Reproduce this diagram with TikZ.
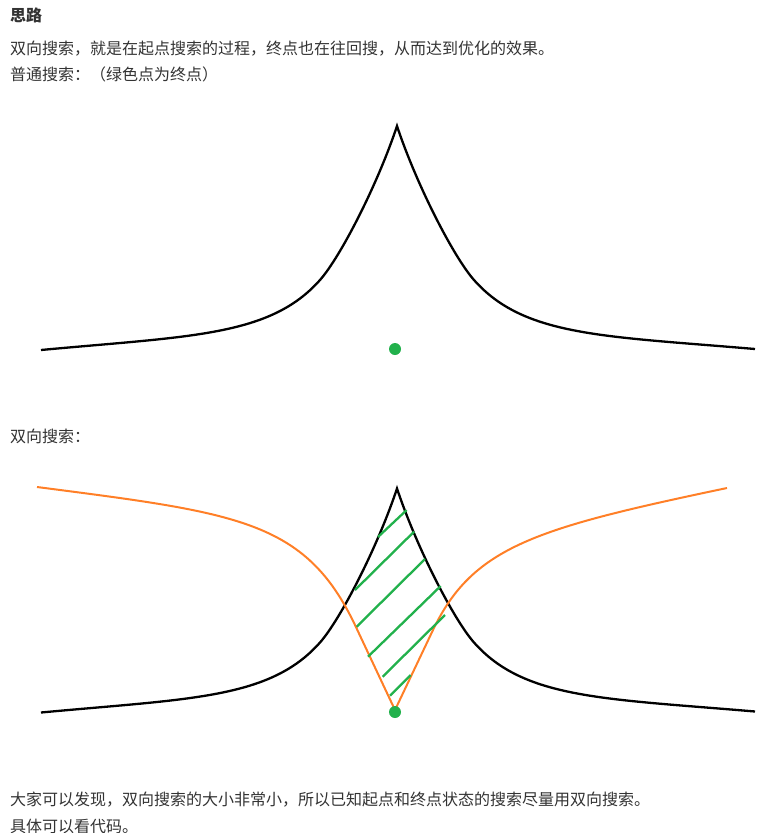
\documentclass[tikz,border=0pt]{standalone}
\usepackage{fontspec}
\newfontfamily\cjk{Noto Sans CJK SC}
\definecolor{txt}{RGB}{51,51,51}
\definecolor{myorange}{RGB}{255,127,39}
\definecolor{mygreen}{RGB}{34,177,76}
\begin{document}
\begin{tikzpicture}[x=1pt,y=-1pt,
  txtnode/.style={anchor=base west, inner sep=0pt, font=\cjk\fontsize{16}{19}\selectfont, text=txt},
  blackcurve/.style={line width=2.3pt, black, line join=miter},
  orangecurve/.style={line width=2pt, myorange, line join=miter},
  hatchline/.style={line width=2.3pt, mygreen},
  enddot/.style={circle, fill=mygreen, inner sep=0pt, minimum size=12pt}]
\useasboundingbox (0,0) rectangle (759,833);

% texts
\node[txtnode, font=\cjk\bfseries\fontsize{16}{19}\selectfont] (title) at (10,21.6) {思路};
\node[txtnode] (l1) at (10,54.6) {双向搜索，就是在起点搜索的过程，终点也在往回搜，从而达到优化的效果。};
\node[txtnode] (l2) at (10,80.6) {普通搜索：（绿色点为终点）};
\node[txtnode] (l3) at (10,442.6) {双向搜索：};
\node[txtnode] (l4) at (10,805) {大家可以发现，双向搜索的大小非常小，所以已知起点和终点状态的搜索尽量用双向搜索。};
\node[txtnode] (l5) at (10,832) {具体可以看代码。};

% top curve
\draw[blackcurve] (41,350) .. controls (191,336) and (270,336.5) .. (320,280)
  .. controls (340,257.4) and (377,186) .. (397,126)
  .. controls (417,186) and (454,257.4) .. (474,280)
  .. controls (524,336.5) and (603,336) .. (755,349);
\node[enddot] (g1) at (395,349) {};

% bottom curve
\begin{scope}[yshift=-362.5pt]
\draw[blackcurve] (41,350) .. controls (191,336) and (270,336.5) .. (320,280)
  .. controls (340,257.4) and (377,186) .. (397,126)
  .. controls (417,186) and (454,257.4) .. (474,280)
  .. controls (524,336.5) and (603,336) .. (755,349);
\end{scope}

% orange curve
\draw[orangecurve] (37,487) .. controls (237,513) and (305,520) .. (355,625)
  -- (395,710) -- (433,630)
  .. controls (473,546) and (537,528) .. (727,488);

% hatching
\draw[hatchline] (378,537) -- (406.7,510);
\draw[hatchline] (355,590) -- (414,531.7);
\draw[hatchline] (356.7,626.7) -- (425,559);
\draw[hatchline] (368,656.7) -- (440.7,586);
\draw[hatchline] (382.7,676.7) -- (445,615);
\draw[hatchline] (390,695.7) -- (410.7,675);

\node[enddot] (g2) at (395,712) {};
\end{tikzpicture}
\end{document}
